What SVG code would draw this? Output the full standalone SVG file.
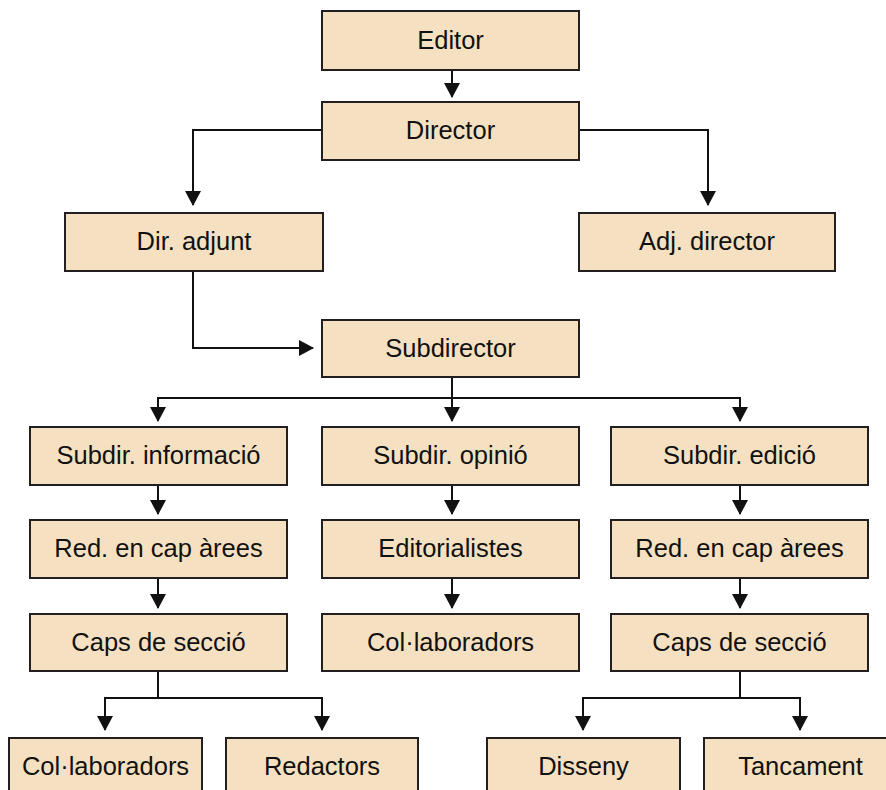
<svg xmlns="http://www.w3.org/2000/svg" width="886" height="790" viewBox="0 0 886 790">
<style>
.b{fill:#F5E1C1;stroke:#231F20;stroke-width:2}
.t{font-family:"Liberation Sans",Arial,sans-serif;font-size:25.5px;fill:#111;text-anchor:middle}
.c{fill:none;stroke:#111;stroke-width:2}
</style>
<defs>
<marker id="a" markerWidth="15" markerHeight="16" refX="14" refY="8" orient="auto" markerUnits="userSpaceOnUse" viewBox="0 0 15 16">
<path d="M0,0 L15,8 L0,16 Z" fill="#111"/>
</marker>
</defs>
<rect width="886" height="790" fill="#fff"/>
<g id="connectors">
<path class="c" d="M452,70 V97" marker-end="url(#a)"/>
<path class="c" d="M322,130 H193 V205" marker-end="url(#a)"/>
<path class="c" d="M579,130 H708 V205" marker-end="url(#a)"/>
<path class="c" d="M193,271 V348 H313" marker-end="url(#a)"/>
<path class="c" d="M452,377 V418"/>
<path class="c" d="M452,398 H158 V421" marker-end="url(#a)"/>
<path class="c" d="M452,398 V421" marker-end="url(#a)"/>
<path class="c" d="M452,398 H740 V421" marker-end="url(#a)"/>
<path class="c" d="M158,485 V514" marker-end="url(#a)"/>
<path class="c" d="M158,578 V608" marker-end="url(#a)"/>
<path class="c" d="M452,485 V514" marker-end="url(#a)"/>
<path class="c" d="M452,578 V608" marker-end="url(#a)"/>
<path class="c" d="M740,485 V514" marker-end="url(#a)"/>
<path class="c" d="M740,578 V608" marker-end="url(#a)"/>
<path class="c" d="M158,671 V698 H105 V730" marker-end="url(#a)"/>
<path class="c" d="M158,698 H322 V730" marker-end="url(#a)"/>
<path class="c" d="M740,671 V698 H583 V730" marker-end="url(#a)"/>
<path class="c" d="M740,698 H800 V730" marker-end="url(#a)"/>
</g>
<g id="editor"><rect class="b" x="322" y="11" width="257" height="59"/><text class="t" x="450.500" y="49">Editor</text></g>
<g id="director"><rect class="b" x="322" y="102" width="257" height="58"/><text class="t" x="450.500" y="139">Director</text></g>
<g id="dir-adjunt"><rect class="b" x="65" y="213" width="258" height="58"/><text class="t" x="194" y="250">Dir. adjunt</text></g>
<g id="adj-director"><rect class="b" x="579" y="213" width="256" height="58"/><text class="t" x="707" y="250">Adj. director</text></g>
<g id="subdirector"><rect class="b" x="322" y="320" width="257" height="57"/><text class="t" x="450.500" y="357">Subdirector</text></g>
<g id="subdir-info"><rect class="b" x="30" y="427" width="257" height="58"/><text class="t" x="158.500" y="464">Subdir. informació</text></g>
<g id="subdir-opinio"><rect class="b" x="322" y="427" width="257" height="58"/><text class="t" x="450.500" y="464">Subdir. opinió</text></g>
<g id="subdir-edicio"><rect class="b" x="611" y="427" width="257" height="58"/><text class="t" x="739.500" y="464">Subdir. edició</text></g>
<g id="red-cap-1"><rect class="b" x="30" y="520" width="257" height="58"/><text class="t" x="158.500" y="557">Red. en cap àrees</text></g>
<g id="editorialistes"><rect class="b" x="322" y="520" width="257" height="58"/><text class="t" x="450.500" y="557">Editorialistes</text></g>
<g id="red-cap-2"><rect class="b" x="611" y="520" width="257" height="58"/><text class="t" x="739.500" y="557">Red. en cap àrees</text></g>
<g id="caps-1"><rect class="b" x="30" y="614" width="257" height="57"/><text class="t" x="158.500" y="651">Caps de secció</text></g>
<g id="collab-mid"><rect class="b" x="322" y="614" width="257" height="57"/><text class="t" x="450.500" y="651">Col·laboradors</text></g>
<g id="caps-2"><rect class="b" x="611" y="614" width="257" height="57"/><text class="t" x="739.500" y="651">Caps de secció</text></g>
<g id="collab-left"><rect class="b" x="9" y="738" width="193" height="60"/><text class="t" x="105.500" y="775">Col·laboradors</text></g>
<g id="redactors"><rect class="b" x="226" y="738" width="192" height="60"/><text class="t" x="322" y="775">Redactors</text></g>
<g id="disseny"><rect class="b" x="487" y="738" width="193" height="60"/><text class="t" x="583.500" y="775">Disseny</text></g>
<g id="tancament"><rect class="b" x="704" y="738" width="193" height="60"/><text class="t" x="800.500" y="775">Tancament</text></g>
</svg>
